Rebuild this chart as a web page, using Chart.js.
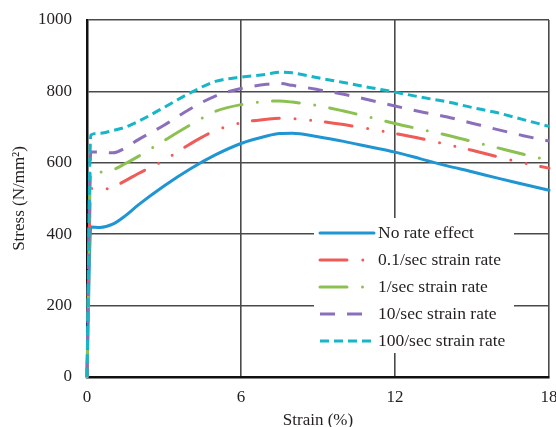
<!DOCTYPE html>
<html>
<head>
<meta charset="utf-8">
<script src="https://cdn.jsdelivr.net/npm/chart.js@4"></script>
<style>
html, body { margin: 0; padding: 0; background: #fff; }
</style>
</head>
<body>
<canvas id="grafica" width="556" height="427"></canvas>
<script>
// strain (%) shared by every curve
var strain = [0, 0.15, 0.5, 1, 1.5, 2, 3, 4, 5, 6, 7, 7.5, 8, 9, 10, 11, 12, 13, 14, 15, 16, 17, 18]
// stress (N/mm2)
var noRate  = [0, 420, 419, 428, 452, 482, 535, 582, 622, 654, 675, 682, 683, 673, 660, 645, 630, 611, 592, 575, 557, 540, 523]
var rate01  = [0, 528, 524, 532, 550, 570, 607, 652, 690, 712, 722, 725, 724, 717, 707, 695, 682, 668, 652, 635, 617, 600, 585]
var rate1   = [0, 575, 574, 580, 598, 618, 662, 705, 744, 763, 772, 773, 770, 760, 745, 728, 710, 694, 678, 660, 642, 624, 607]
var rate10  = [0, 630, 630, 628, 642, 665, 705, 750, 787, 808, 820, 822, 817, 805, 792, 776, 759, 743, 729, 711, 693, 676, 661]
var rate100 = [0, 678, 683, 690, 700, 716, 755, 795, 828, 840, 848, 854, 852, 838, 825, 811, 798, 784, 771, 755, 740, 721, 702]
var nombres = ['No rate effect', '0.1/sec strain rate', '1/sec strain rate', '10/sec strain rate', '100/sec strain rate']
var xTicks = [0, 6, 12, 18]
var yTicks = [0, 200, 400, 600, 800, 1000]

Chart.defaults.font.family = '"Liberation Serif", "DejaVu Serif", serif'
Chart.defaults.color = '#231f20'

function puntos(valores) {
    return strain.map(function (s, i) { return { x: s, y: valores[i] } })
}

function serie(nombre, valores, color, dash, cap, orden) {
    return {
        label: nombre,
        data: puntos(valores),
        borderColor: color,
        backgroundColor: color,
        borderWidth: 3,
        borderDash: dash,
        borderCapStyle: cap,
        pointRadius: 0,
        cubicInterpolationMode: 'monotone',
        clip: false,
        order: orden
    }
}

// legend box drawn inside the plot, lower right
var leyenda = {
    id: 'leyenda',
    afterDatasetsDraw(chart) {
        var ctx = chart.ctx
        var a = chart.chartArea
        var x0 = a.left + 227
        var y0 = a.bottom - 159
        ctx.save()
        ctx.fillStyle = '#ffffff'
        ctx.fillRect(x0, y0, 200, 135)
        chart.data.datasets.forEach(function (ds, i) {
            var y = y0 + 15 + i * 27
            ctx.beginPath()
            ctx.strokeStyle = ds.borderColor
            ctx.lineWidth = ds.borderWidth
            ctx.lineCap = ds.borderCapStyle
            ctx.setLineDash(ds.borderDash)
            ctx.moveTo(x0 + 6, y)
            ctx.lineTo(x0 + 60, y)
            ctx.stroke()
            ctx.setLineDash([])
            ctx.fillStyle = '#231f20'
            ctx.font = '17.5px "Liberation Serif"'
            ctx.textBaseline = 'middle'
            ctx.textAlign = 'left'
            ctx.fillText(ds.label, x0 + 64, y)
        })
        ctx.restore()
    }
}

function texto(v) { return String(v) }

const config = {
    type: 'line',
    data: {
        datasets: [
            serie(nombres[0], noRate, '#1f96d3', [], 'round', 5),
            serie(nombres[1], rate01, '#ef5b57', [27, 15.8, 0, 15.7, 0, 14.8], 'round', 4),
            serie(nombres[2], rate1, '#8cc152', [27, 15.5, 0, 15.2], 'round', 3),
            serie(nombres[3], rate10, '#8c6fbb', [15, 12], 'butt', 2),
            serie(nombres[4], rate100, '#16b5c7', [9, 5], 'butt', 1)
        ]
    },
    options: {
        responsive: false,
        animation: false,
        devicePixelRatio: 1,
        layout: { padding: { top: 20, right: 0, bottom: 0, left: 0 } },
        plugins: {
            legend: { display: false },
            tooltip: { enabled: false }
        },
        scales: {
            x: {
                type: 'linear',
                min: 0,
                max: 18,
                afterBuildTicks: function (s) { s.ticks = xTicks.map(function (v) { return { value: v } }) },
                afterFit: function (s) { s.height = 50; s.paddingRight = 7 },
                ticks: { font: { size: 17 }, padding: 10, color: '#231f20', callback: texto },
                grid: { color: '#4a4a4a', lineWidth: 1.6, drawTicks: false },
                border: { color: '#111', width: 2.5 },
                title: { display: true, text: 'Strain (%)', font: { size: 17, lineHeight: 0.8 }, padding: 0, color: '#231f20' }
            },
            y: {
                min: 0,
                max: 1000,
                afterBuildTicks: function (s) { s.ticks = yTicks.map(function (v) { return { value: v } }) },
                afterFit: function (s) { s.width = 87; s.paddingTop = 0; s.paddingBottom = 0 },
                ticks: { font: { size: 17 }, padding: 15, color: '#231f20', callback: texto },
                grid: { color: '#4a4a4a', lineWidth: 1.6, drawTicks: false },
                border: { color: '#111', width: 2.5 },
                title: { display: true, text: 'Stress (N/mm\u00B2)', font: { size: 17 }, padding: { top: 9, bottom: 0 }, color: '#231f20' }
            }
        }
    },
    plugins: [leyenda]
}

const grafica = new Chart(document.getElementById('grafica'), config)
</script>
</body>
</html>
